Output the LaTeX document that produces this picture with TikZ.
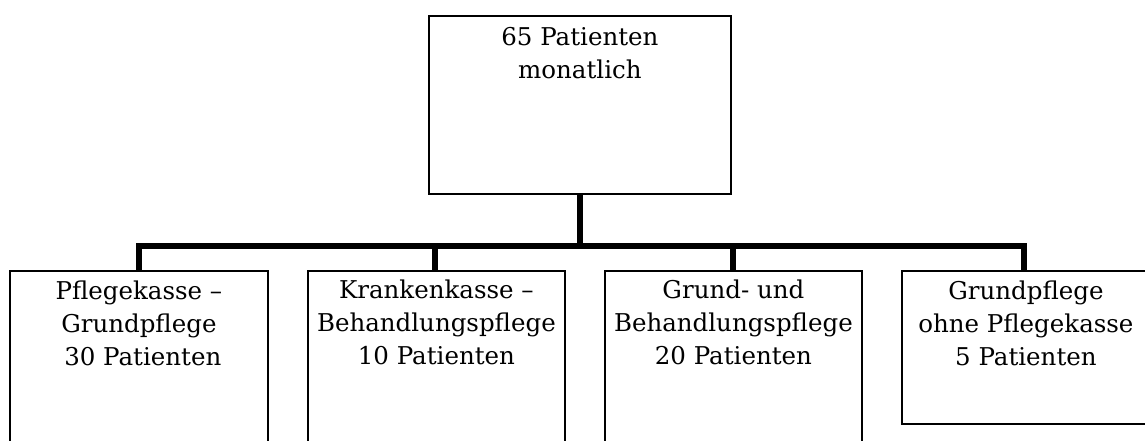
\documentclass[tikz,border=0pt]{standalone}
\usepackage{fontspec}
\setmainfont{DejaVu Serif}
\begin{document}
\begin{tikzpicture}[x=1pt,y=-1pt,
  box/.style={draw=black,line width=1.8pt,fill=white,rectangle,inner sep=0pt,anchor=north west},
  txt/.style={anchor=north,align=center,inner sep=0pt,font=\fontsize{24.5}{33}\selectfont},
  link/.style={line width=6pt,line join=miter,line cap=butt}]
\useasboundingbox (0,0) rectangle (1145,441);
\clip (0,0) rectangle (1145,441);
% head of the chart
\node[box,minimum width=302pt,minimum height=178pt] (top) at (428,15) {};
\node[txt] (ttop) at ([yshift=-12pt]top.north) {65 Patienten\\monatlich};
% the four groups
\node[box,minimum width=258pt,minimum height=200pt] (b1) at (9,270) {};
\node[box,minimum width=257pt,minimum height=200pt] (b2) at (307,270) {};
\node[box,minimum width=257pt,minimum height=200pt] (b3) at (604,270) {};
\node[box,minimum width=250pt,minimum height=153pt] (b4) at (901,270) {};
\node[txt] (t1) at ([yshift=-11pt]b1.north) {Pflegekasse –\\Grundpflege\\\ 30 Patienten};
\node[txt] (t2) at ([yshift=-10pt]b2.north) {Krankenkasse –\\Behandlungspflege\\10 Patienten};
\node[txt] (t3) at ([yshift=-10pt]b3.north) {Grund- und\\Behandlungspflege\\20 Patienten};
\node[txt] (t4) at ([xshift=-1pt,yshift=-11pt]b4.north) {Grundpflege\\ohne Pflegekasse\\5 Patienten};
% connectors
\coordinate (bus) at (579,246);
\draw[link] (top.south) -- (top.south |- bus);
\draw[link] (139,270) -- (139,246) -- (1024,246) -- (1024,270);
\draw[link] (435,246) -- (435,270);
\draw[link] (733,246) -- (733,270);
\end{tikzpicture}
\end{document}
